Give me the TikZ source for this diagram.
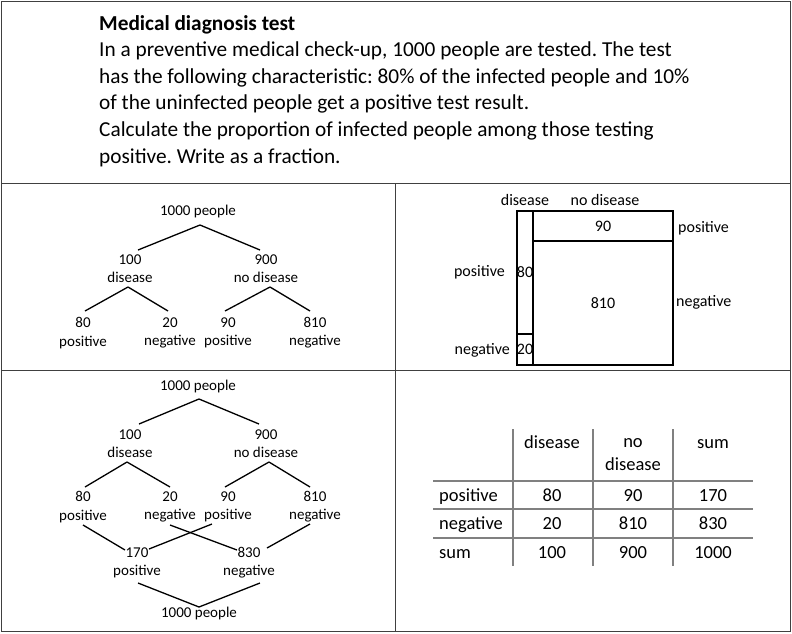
\documentclass[tikz,border=0pt]{standalone}
\usepackage{fontspec}
\setmainfont{Carlito}
\frenchspacing
\newcommand\taskfont{\fontsize{21.3}{26.6}\selectfont}
\newcommand\treefont{\fontsize{15}{18.3}\selectfont}
\newcommand\boxfont{\fontsize{16}{19.5}\selectfont}
\newcommand\tabfont{\fontsize{18.5}{23}\selectfont}

\begin{document}
\begin{tikzpicture}[x=1pt, y=-1pt,
	frame/.style={draw=black!75, line width=1pt},
	branch/.style={line width=1.3pt},
	tree/.style={font=\treefont, align=center, inner sep=0pt},
	cell/.style={draw, line width=1.3pt, inner sep=0pt, font=\boxfont},
	boxlabel/.style={font=\boxfont, inner sep=0pt, text height=0.64em, text depth=0pt},
	tab/.style={font=\tabfont, inner sep=0pt, text height=0.64em, text depth=0pt},
	tabhead/.style={font=\tabfont, align=center, inner sep=0pt},
	tabline/.style={draw=black!50, line width=1.2pt}]
	\useasboundingbox (0,0) rectangle (792,633);
	
	% frame
	\draw[frame] (1.5,1.5) rectangle (790,631);
	\draw[frame] (1.5,183) -- (790,183);
	\draw[frame] (1.5,370) -- (790,370);
	\draw[frame] (395,183) -- (395,631);
	
	% task
	\node[font=\taskfont, align=left, inner sep=0pt, anchor=north west] (task) at (99,15)
		{\textbf{Medical diagnosis test}\\
		In a preventive medical check-up, 1000 people are tested. The test\\
		has the following characteristic: 80\% of the infected people and 10\%\\
		of the uninfected people get a positive test result.\\
		Calculate the proportion of infected people among those testing\\
		positive. Write as a fraction.};
	
	% tree
	\node[tree] (root) at (198,211) {1000 people};
	\node[tree] (dis) at (130,269) {100\\disease};
	\node[tree] (nodis) at (266,269) {900\\no disease};
	\node[tree] (dpos) at (83,333) {80\\positive};
	\node[tree] (dneg) at (170,333) {20\\negative};
	\node[tree] (npos) at (228,333) {90\\positive};
	\node[tree] (nneg) at (315,333) {810\\negative};
	
	\foreach \a/\b/\sa/\sb in {root/dis/{2,14}/{8,-19}, root/nodis/{2,14}/{-6,-19},
		dis/dpos/{-2,18}/{2,-22}, dis/dneg/{-2,18}/{-2,-22},
		nodis/npos/{4,18}/{-3,-22}, nodis/nneg/{4,18}/{-5,-22}}
	{
		\draw[branch] ([shift={(\sa)}]\a.center) -- ([shift={(\sb)}]\b.center);
	}
	
	% unit square
	\node[cell, minimum width=16, minimum height=123] (sqdp) at (525,272.5) {80};
	\node[cell, minimum width=16, minimum height=31] (sqdn) at (525,349.5) {20};
	\node[cell, minimum width=140, minimum height=30] (sqnp) at (603,226) {90};
	\node[cell, minimum width=140, minimum height=124] (sqnn) at (603,303) {810};
	
	\node[boxlabel] (sqdis) at (525,202.5) {disease};
	\node[boxlabel] (sqnodis) at (605,202.5) {no disease};
	\node[boxlabel, anchor=east] (sqpl) at (505,273) {positive};
	\node[boxlabel, anchor=east] (sqnl) at (510,351) {negative};
	\node[boxlabel, anchor=west] (sqpr) at (678,229) {positive};
	\node[boxlabel, anchor=west] (sqnr) at (676,303) {negative};
	
	% double tree
	\node[tree] (broot) at (198,386) {1000 people};
	\node[tree] (bdis) at (130,443.5) {100\\disease};
	\node[tree] (bnodis) at (266,443.5) {900\\no disease};
	\node[tree] (bdpos) at (83,507) {80\\positive};
	\node[tree] (bdneg) at (170,507) {20\\negative};
	\node[tree] (bnpos) at (228,507) {90\\positive};
	\node[tree] (bnneg) at (315,507) {810\\negative};
	\node[tree] (bpos) at (137,563) {170\\positive};
	\node[tree] (bneg) at (249,563) {830\\negative};
	\node[tree] (ball) at (199,613) {1000 people};
	
	\foreach \a/\b/\sa/\sb in {broot/bdis/{1,13}/{9,-19.5}, broot/bnodis/{1,13}/{-7,-19.5},
		bdis/bdpos/{-3,18.5}/{2,-20}, bdis/bdneg/{-3,18.5}/{0,-20},
		bnodis/bnpos/{3,18.5}/{-3,-20}, bnodis/bnneg/{3,18.5}/{-5,-20},
		bdpos/bpos/{0,18}/{-12,-13}, bdneg/bneg/{0,18}/{-12,-13},
		bnpos/bpos/{-16,17}/{12,-14}, bnneg/bneg/{-5,17}/{18,-15},
		bpos/ball/{1,20}/{0,-6}, bneg/ball/{11,20}/{0,-6}}
	{
		\draw[branch] ([shift={(\sa)}]\a.center) -- ([shift={(\sb)}]\b.center);
	}
	
	% table
	\foreach \x in {513, 593, 673}
		\draw[tabline] (\x,429) -- (\x,566);
	\foreach \y in {481, 509, 538}
		\draw[tabline] (433,\y) -- (753,\y);
	
	\node[tab] (hdis) at (552,445.5) {disease};
	\node[tabhead] (hnodis) at (633,455) {no\\disease};
	\node[tab] (hsum) at (713,445.5) {sum};
	\node[tab, anchor=west] (rpos) at (439,498) {positive};
	\node[tab, anchor=west] (rneg) at (439,526) {negative};
	\node[tab, anchor=west] (rsum) at (439,555) {sum};
	\foreach \a/\b/\c/\y/\r in {80/90/170/498/p, 20/810/830/526/n, 100/900/1000/555/s}
	{
		\node[tab] (\r1) at (552,\y) {\a};
		\node[tab] (\r2) at (633,\y) {\b};
		\node[tab] (\r3) at (713,\y) {\c};
	}
\end{tikzpicture}
\end{document}
